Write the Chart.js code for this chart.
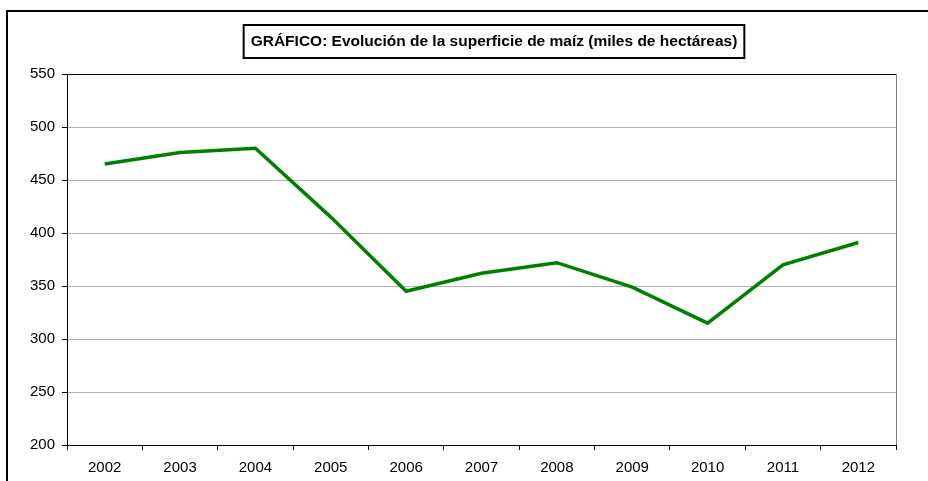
<!DOCTYPE html>
<html>
<head>
<meta charset="utf-8">
<script src="https://cdn.jsdelivr.net/npm/chart.js@4/dist/chart.umd.min.js"></script>
<style>
  html, body { margin: 0; padding: 0; background: #fff; }
  #wrap { width: 928px; height: 481px; }
</style>
</head>
<body>
<div id="wrap"><canvas id="lineChart"></canvas></div>
<script>
let YEARS = ['2002', '2003', '2004', '2005', '2006', '2007', '2008', '2009', '2010', '2011', '2012'];
let SUPERFICIE = [465, 476, 480, 415, 345, 362, 372, 349, 315, 370, 391];
let Y_MIN = 200, Y_MAX = 550, Y_STEP = 50;
let TITLE = 'GRÁFICO: Evolución de la superficie de maíz (miles de hectáreas)';

let CHART = document.getElementById("lineChart");

// frame, title box and right border of the plot area
let framePlugin = {
    id: 'frame',
    afterDraw(chart) {
        let ctx = chart.ctx;
        let a = chart.chartArea;
        ctx.save();
        // outer frame (cut off at right/bottom in the original)
        ctx.strokeStyle = '#000';
        ctx.lineWidth = 2;
        ctx.strokeRect(7, 11, 940, 500);
        // right border of plot
        ctx.strokeStyle = '#808080';
        ctx.lineWidth = 1;
        ctx.beginPath();
        ctx.moveTo(a.right + 0.5, a.top);
        ctx.lineTo(a.right + 0.5, a.bottom);
        ctx.stroke();
        // title
        ctx.font = 'bold 15.5px "Liberation Sans", Arial, sans-serif';
        ctx.fillStyle = '#000';
        ctx.textAlign = 'center';
        ctx.textBaseline = 'middle';
        let cx = 494;
        let w = ctx.measureText(TITLE).width;
        ctx.fillText(TITLE, cx, 42);
        ctx.lineWidth = 2;
        ctx.strokeStyle = '#000';
        ctx.strokeRect(cx - w / 2 - 7, 25, w + 14, 33);
        ctx.restore();
    }
};

let tickFont = { family: '"Liberation Sans", Arial, sans-serif', size: 15 };

let data = {
    type: 'line',
    data: {
        labels: YEARS,
        datasets: [
            {
                label: 'Superficie',
                data: SUPERFICIE,
                borderColor: '#008000',
                backgroundColor: '#008000',
                borderWidth: 3.5,
                pointRadius: 0,
                tension: 0,
                fill: false
            }
        ]
    },
    options: {
        responsive: false,
        animation: false,
        layout: {
            padding: { left: 0, right: 32, top: 74, bottom: 0 }
        },
        plugins: {
            legend: { display: false },
            title: { display: false },
            tooltip: { enabled: false }
        },
        scales: {
            x: {
                offset: true,
                grid: {
                    offset: true,
                    drawOnChartArea: false,
                    color: '#000',
                    tickLength: 5
                },
                border: { color: '#000', width: 1 },
                ticks: {
                    color: '#000',
                    padding: 9,
                    maxRotation: 0,
                    font: tickFont
                },
                afterFit(scale) { scale.height = 36; }
            },
            y: {
                min: Y_MIN,
                max: Y_MAX,
                ticks: {
                    stepSize: Y_STEP,
                    color: '#000',
                    padding: 7,
                    font: tickFont
                },
                grid: {
                    color: (c) => (c.tick && c.tick.value === Y_MAX) ? '#000' : '#b4b4b4',
                    tickColor: '#000',
                    tickLength: 5
                },
                border: { color: '#000', width: 1 },
                afterFit(scale) { scale.width = 67; }
            }
        }
    },
    plugins: [framePlugin]
};

CHART.width = 928;
CHART.height = 481;
new Chart(CHART, data);
</script>
</body>
</html>
